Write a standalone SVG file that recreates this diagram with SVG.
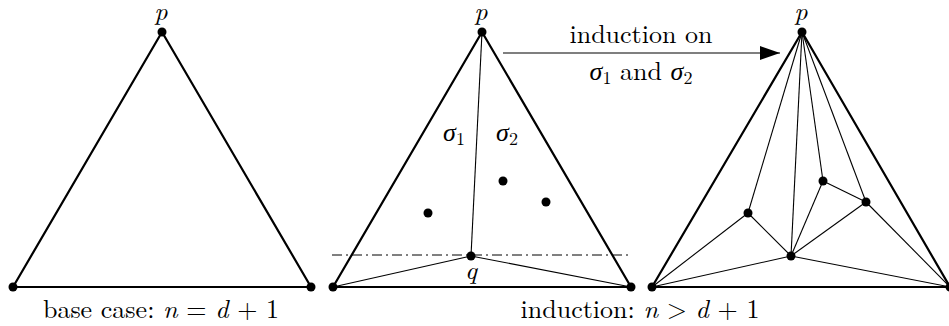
<svg xmlns="http://www.w3.org/2000/svg" width="949" height="326" viewBox="0 0 949 326">
<style>
.thick{stroke:#000;stroke-width:2.2;fill:none;stroke-linejoin:round}
.thin{stroke:#000;stroke-width:1.1;fill:none}
.dd{stroke:#000;stroke-width:1;stroke-dasharray:10 4 2 4;fill:none}
.dot{fill:#000}
text{font-family:"Latin Modern Roman","CMU Serif","Liberation Serif","DejaVu Serif",serif;font-size:26px;fill:#000}
.m{font-style:italic}
.s{font-size:18px}
</style>
<defs>
<marker id="ah" viewBox="0 0 20 14" refX="20" refY="7" markerWidth="20" markerHeight="14" markerUnits="userSpaceOnUse" orient="auto">
<path d="M0,0 L20,7 L0,14 Z" fill="#000"/>
</marker>
</defs>
<g id="connectors">
<polygon class="thick" points="162,32 13,287 311,287"/>
<polygon class="thick" points="482,32 333,287 631,287"/>
<line class="thin" x1="482" y1="32" x2="471" y2="256"/>
<line class="thin" x1="333" y1="287" x2="471" y2="256"/>
<line class="thin" x1="631" y1="287" x2="471" y2="256"/>
<line class="dd" x1="332" y1="255" x2="632" y2="255"/>
<polygon class="thick" points="802,32 652,287 950,287"/>
<g class="thin">
<line x1="802" y1="32" x2="748" y2="213"/>
<line x1="802" y1="32" x2="791" y2="256"/>
<line x1="802" y1="32" x2="823" y2="181"/>
<line x1="802" y1="32" x2="866" y2="202"/>
<line x1="652" y1="287" x2="748" y2="213"/>
<line x1="652" y1="287" x2="791" y2="256"/>
<line x1="950" y1="287" x2="791" y2="256"/>
<line x1="950" y1="287" x2="866" y2="202"/>
<line x1="748" y1="213" x2="791" y2="256"/>
<line x1="823" y1="181" x2="791" y2="256"/>
<line x1="823" y1="181" x2="866" y2="202"/>
<line x1="866" y1="202" x2="791" y2="256"/>
</g>
<line x1="503" y1="53" x2="780" y2="53" stroke="#000" stroke-width="1.2" marker-end="url(#ah)"/>
</g>
<g id="base">
<circle class="dot" cx="162" cy="32" r="4.5"/>
<circle class="dot" cx="13" cy="287" r="4.5"/>
<circle class="dot" cx="311" cy="287" r="4.5"/>
<text class="m" x="161" y="20" text-anchor="middle">p</text>
<text x="161" y="318" text-anchor="middle" xml:space="preserve">base case: <tspan class="m">n</tspan> = <tspan class="m">d</tspan> + 1</text>
</g>
<g id="middle">
<circle class="dot" cx="482" cy="32" r="4.5"/>
<circle class="dot" cx="333" cy="287" r="4.5"/>
<circle class="dot" cx="631" cy="287" r="4.5"/>
<circle class="dot" cx="471" cy="256" r="4.5"/>
<circle class="dot" cx="428" cy="213" r="4.5"/>
<circle class="dot" cx="503" cy="181" r="4.5"/>
<circle class="dot" cx="546" cy="202" r="4.5"/>
<text class="m" x="481" y="20" text-anchor="middle">p</text>
<text class="m" x="471" y="279" text-anchor="middle">q</text>
<text x="454" y="141" text-anchor="middle"><tspan class="m">σ</tspan><tspan class="s" dy="4">1</tspan></text>
<text x="507" y="141" text-anchor="middle"><tspan class="m">σ</tspan><tspan class="s" dy="4">2</tspan></text>
</g>
<g id="arrowlabel">
<text x="641" y="43" text-anchor="middle">induction on</text>
<text x="641" y="80" text-anchor="middle" xml:space="preserve"><tspan class="m">σ</tspan><tspan class="s" dy="4">1</tspan><tspan dy="-4"> and </tspan><tspan class="m">σ</tspan><tspan class="s" dy="4">2</tspan></text>
</g>
<g id="right">
<circle class="dot" cx="802" cy="32" r="4.5"/>
<circle class="dot" cx="652" cy="287" r="4.5"/>
<circle class="dot" cx="950" cy="287" r="4.5"/>
<circle class="dot" cx="791" cy="256" r="4.5"/>
<circle class="dot" cx="748" cy="213" r="4.5"/>
<circle class="dot" cx="823" cy="181" r="4.5"/>
<circle class="dot" cx="866" cy="202" r="4.5"/>
<text class="m" x="801" y="20" text-anchor="middle">p</text>
</g>
<text x="640" y="318" text-anchor="middle" xml:space="preserve">induction: <tspan class="m">n</tspan> &gt; <tspan class="m">d</tspan> + 1</text>
</svg>
